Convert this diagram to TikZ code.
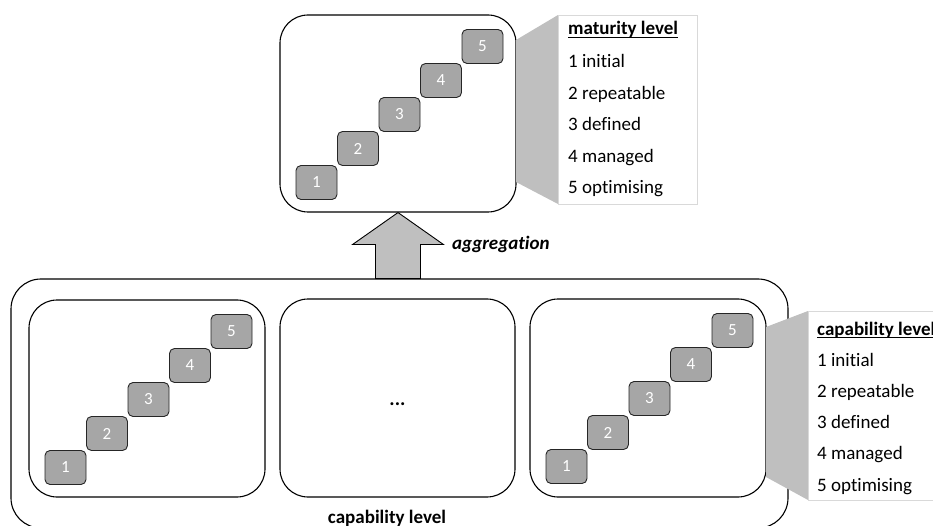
\documentclass[tikz,border=0pt]{standalone}
\usepackage{fontspec}
\setmainfont{Carlito}[Ligatures=NoCommon]
\usetikzlibrary{positioning}

\definecolor{stepgray}{HTML}{A6A6A6}
\definecolor{calloutgray}{HTML}{BFBFBF}
\definecolor{panelline}{HTML}{D9D9D9}

% bold header with a tight underline
\newcommand\lvlhead[1]{\setbox0\hbox{\bfseries #1}\rlap{\rule[-2.8pt]{\wd0}{1.1pt}}\box0}

\tikzset{
  areabox/.style={draw, line width=1.1pt, rounded corners=28pt, inner sep=0pt},
  lvlbox/.style={draw=black!85, line width=0.9pt, fill=stepgray, rounded corners=5pt,
    minimum width=41, minimum height=34, inner sep=0pt, text=white,
    font=\fontsize{17}{17}\selectfont},
  listpanel/.style={draw=panelline, fill=white, minimum width=139, minimum height=189,
    inner sep=0pt, anchor=north west},
  listitem/.style={anchor=base west, inner sep=0pt, font=\fontsize{19}{23}\selectfont},
  blockarrow/.style={draw, line width=0.9pt, fill=calloutgray, line join=miter},
}

\begin{document}
\begin{tikzpicture}[x=1pt,y=-1pt]
  \useasboundingbox (0,0) rectangle (933,526);

  % maturity level (top)
  \node[areabox, minimum width=236, minimum height=197] (mat) at (398,113.5) {};
  \foreach \i in {1,...,5}
    \node[lvlbox] (m\i) at ({316.5+41.5*(\i-1)},{182.5-34*(\i-1)}) {\i};
  \fill[calloutgray] (516,40) -- (558,15) -- (558,204) -- (516,182) -- cycle;
  \node[listpanel] (matlist) at (558,15) {};
  \node[listitem] (mathead) at (568,35) {\lvlhead{maturity level}};
  \foreach \t [count=\k] in {initial, repeatable, defined, managed, optimising}
    \node[listitem] (matitem\k) at (568,{68+31.5*(\k-1)}) {\k\ \t};

  % capability level (bottom)
  \node[areabox, rounded corners=30pt, minimum width=777, minimum height=249] (caps) at (399.5,403.5) {};
  \node[anchor=base, inner sep=0pt, font=\fontsize{19}{23}\selectfont\bfseries] (capname) at (387,523) {capability level};

  \node[areabox, minimum width=236, minimum height=197] (capa) at (147,398.5) {};
  \foreach \i in {1,...,5}
    \node[lvlbox] (a\i) at ({65.5+41.5*(\i-1)},{467.5-34*(\i-1)}) {\i};

  \node[areabox, minimum width=235, minimum height=198] (capb) at (397.5,398) {};
  \node[anchor=base, inner sep=0pt, font=\fontsize{20}{23}\selectfont\bfseries] (dots) at (397.5,405) {...};

  \node[areabox, minimum width=236, minimum height=198] (capc) at (648,398) {};
  \foreach \i in {1,...,5}
    \node[lvlbox] (c\i) at ({566.5+41.5*(\i-1)},{466.5-34*(\i-1)}) {\i};
  \fill[calloutgray] (766,327) -- (808,311) -- (808,500) -- (766,477) -- cycle;
  \node[listpanel] (caplist) at (808,311) {};
  \node[listitem] (caphead) at (817,335) {\lvlhead{capability level}};
  \foreach \t [count=\k] in {initial, repeatable, defined, managed, optimising}
    \node[listitem] (capitem\k) at (817,{366+31.25*(\k-1)}) {\k\ \t};

  % aggregation arrow
  \draw[blockarrow] (mat.south) -- ++(45.5,32) -- ++(-23,0) -- ++(0,34) -- ++(-45,0)
    -- ++(0,-34) -- ++(-23,0) -- cycle;
  \node[anchor=base west, inner sep=0pt, font=\fontsize{19}{23}\selectfont\bfseries\itshape] (agg) at (452,250) {aggregation};
\end{tikzpicture}
\end{document}
